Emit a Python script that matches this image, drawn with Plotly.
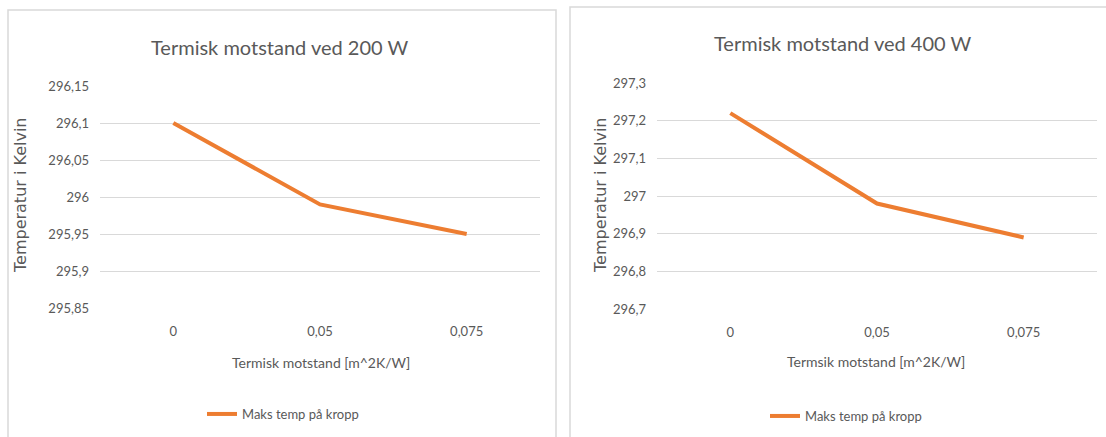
import plotly.graph_objects as go

W, H = 1106, 437

categories = ["0", "0,05", "0,075"]
temps_200w = [296.10, 295.99, 295.95]
temps_400w = [297.22, 296.98, 296.89]
series_name = "Maks temp på kropp"

ticks_200 = [295.85, 295.9, 295.95, 296.0, 296.05, 296.1, 296.15]
ticklabels_200 = ["295,85", "295,9", "295,95", "296", "296,05", "296,1", "296,15"]
ticks_400 = [296.7, 296.8, 296.9, 297.0, 297.1, 297.2, 297.3]
ticklabels_400 = ["296,7", "296,8", "296,9", "297", "297,1", "297,2", "297,3"]

title_200 = "Termisk motstand ved 200 W"
title_400 = "Termisk motstand ved 400 W"
xtitle_200 = "Termisk motstand [m^2K/W]"
xtitle_400 = "Termsik motstand [m^2K/W]"
ytitle = "Temperatur i Kelvin"

ORANGE = "#ED7D31"
GREY = "#595959"
GRID = "#D9D9D9"
FONT = "Lato, Liberation Sans, sans-serif"

def px(x):
    return x / W

def py(y):
    return 1 - y / H

fig = go.Figure()

fig.add_trace(go.Scatter(x=categories, y=temps_200w, mode="lines", name=series_name,
                         line=dict(color=ORANGE, width=4), xaxis="x", yaxis="y",
                         legend="legend"))
fig.add_trace(go.Scatter(x=categories, y=temps_400w, mode="lines", name=series_name,
                         line=dict(color=ORANGE, width=4), xaxis="x2", yaxis="y2",
                         legend="legend2"))

axis_common_x = dict(type="category", range=[-0.5, 2.5], showgrid=False, zeroline=False,
                     showline=False, ticks="", tickfont=dict(family=FONT, size=13, color=GREY),
                     ticklabelstandoff=14, fixedrange=True, automargin=False)
axis_common_y = dict(showgrid=True, gridcolor=GRID, gridwidth=1, zeroline=False, showline=False,
                     ticks="", tickfont=dict(family=FONT, size=13, color=GREY),
                     ticklabelstandoff=10, fixedrange=True, automargin=False)

fig.update_layout(
    width=W, height=H,
    margin=dict(l=0, r=0, t=0, b=0, autoexpand=False),
    paper_bgcolor="white", plot_bgcolor="white",
    xaxis=dict(domain=[px(100), px(540)], anchor="y", **axis_common_x),
    yaxis=dict(domain=[py(308), py(86)], anchor="x", range=[295.85, 296.15],
               tickvals=ticks_200, ticktext=ticklabels_200, **axis_common_y),
    xaxis2=dict(domain=[px(657), px(1097)], anchor="y2", **axis_common_x),
    yaxis2=dict(domain=[py(309), py(83)], anchor="x2", range=[296.7, 297.3],
                tickvals=ticks_400, ticktext=ticklabels_400, **axis_common_y),
    legend=dict(x=px(202), y=py(414), xanchor="left", yanchor="middle",
                font=dict(family=FONT, size=13, color=GREY), bgcolor="rgba(0,0,0,0)"),
    legend2=dict(x=px(765), y=py(416), xanchor="left", yanchor="middle",
                 font=dict(family=FONT, size=13, color=GREY), bgcolor="rgba(0,0,0,0)"),
    showlegend=True,
)

# chart area borders
fig.add_shape(type="rect", xref="paper", yref="paper", x0=px(8), x1=px(556), y0=py(440), y1=py(10),
              line=dict(color=GRID, width=1.5), fillcolor="rgba(0,0,0,0)", layer="below")
fig.add_shape(type="rect", xref="paper", yref="paper", x0=px(570), x1=px(1110), y0=py(440), y1=py(7),
              line=dict(color=GRID, width=1.5), fillcolor="rgba(0,0,0,0)", layer="below")

ann = []
ann.append(dict(text=title_200, x=px(280), y=py(47), font=dict(family=FONT, size=20, color=GREY)))
ann.append(dict(text=title_400, x=px(843), y=py(43), font=dict(family=FONT, size=20, color=GREY)))
ann.append(dict(text=xtitle_200, x=px(321), y=py(362), font=dict(family=FONT, size=14, color=GREY)))
ann.append(dict(text=xtitle_400, x=px(876), y=py(361), font=dict(family=FONT, size=14, color=GREY)))
ann.append(dict(text=ytitle, x=px(20), y=py(195), textangle=-90,
                font=dict(family="DejaVu Sans", size=16, color=GREY)))
ann.append(dict(text=ytitle, x=px(600), y=py(195), textangle=-90,
                font=dict(family="DejaVu Sans", size=16, color=GREY)))
for a in ann:
    a.update(xref="paper", yref="paper", xanchor="center", yanchor="middle", showarrow=False)
fig.update_layout(annotations=ann)

fig.write_html(
    "out.html",
    config={"displayModeBar": False},
    post_script="document.body.style.margin='0';document.body.style.overflow='hidden';",
)
